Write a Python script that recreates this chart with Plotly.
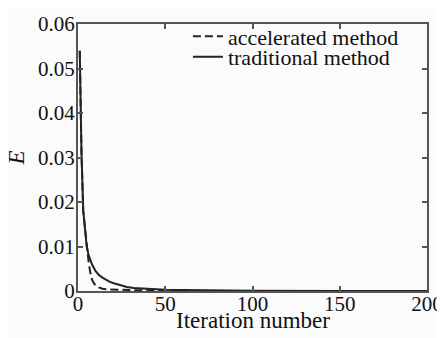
import plotly.graph_objects as go

trad_iter = [1, 2, 3, 4, 5, 6, 7, 8, 10, 12, 14, 16, 18, 20, 24, 28, 32, 36, 40, 50, 60, 80, 100, 150, 200]
trad_E = [0.054, 0.031, 0.018, 0.0130, 0.0100, 0.0082, 0.0070, 0.0060, 0.0045, 0.0036, 0.0030, 0.0025, 0.0021, 0.0018, 0.0013, 0.0009, 0.0007, 0.0006, 0.0005, 0.0003, 0.0002, 0.0001, 0.00005, 0.0, 0.0]

acc_iter = [1, 2, 3, 4, 5, 6, 7, 8, 9, 10, 12, 14, 16, 20, 30, 40, 50, 57]
acc_E = [0.054, 0.031, 0.018, 0.0140, 0.0110, 0.0068, 0.0042, 0.0026, 0.0018, 0.0013, 0.0008, 0.0005, 0.0004, 0.0003, 0.0002, 0.00015, 0.0001, 0.00008]

FONT = "Liberation Serif"
fig = go.Figure()
fig.add_trace(go.Scatter(x=acc_iter, y=acc_E, mode="lines", name="accelerated method",
                         legend="legend",
                         line=dict(color="#222222", width=2, dash="8px,4px")))
fig.add_trace(go.Scatter(x=trad_iter, y=trad_E, mode="lines", name="traditional method",
                         legend="legend2",
                         line=dict(color="#222222", width=2)))

axis_common = dict(showline=True, linecolor="#555555", linewidth=2, mirror="ticks",
                   ticks="inside", ticklen=5, tickwidth=1.5, tickcolor="#555555",
                   showgrid=False, zeroline=False, automargin=False,
                   tickfont=dict(family=FONT, size=21, color="#111111"))

leg_common = dict(xanchor="left", yanchor="middle", bgcolor="rgba(0,0,0,0)",
                  font=dict(family=FONT, size=22, color="#111111"), itemwidth=30)

# page body adds an 8px offset; figure is sized to fit the 445x338 window
fig.update_layout(
    width=437, height=330,
    margin=dict(l=70, r=18, t=8, b=47),
    paper_bgcolor="#fbfbfb", plot_bgcolor="#fbfbfb",
    font=dict(family=FONT, size=21, color="#111111"),
    xaxis=dict(range=[0, 200], tickvals=[0, 50, 100, 150, 200], ticklabelstandoff=-7,
               **axis_common),
    yaxis=dict(range=[0, 0.06], tickvals=[0, 0.01, 0.02, 0.03, 0.04, 0.05, 0.06],
               ticktext=["0", "0.01", "0.02", "0.03", "0.04", "0.05", "0.06"],
               ticklabelstandoff=-3, **axis_common),
    legend=dict(x=0.315, y=0.953, **leg_common),
    legend2=dict(x=0.315, y=0.877, **leg_common),
    showlegend=True,
    annotations=[
        dict(text="Iteration number", xref="paper", yref="paper", x=0.5, y=-0.112,
             xanchor="center", yanchor="middle", showarrow=False,
             font=dict(family=FONT, size=23, color="#111111")),
        dict(text="<i>E</i>", xref="paper", yref="paper", x=-0.175, y=0.5,
             xanchor="center", yanchor="middle", showarrow=False, textangle=-90,
             font=dict(family=FONT, size=23, color="#111111")),
    ],
)

fig.write_html("out.html")
